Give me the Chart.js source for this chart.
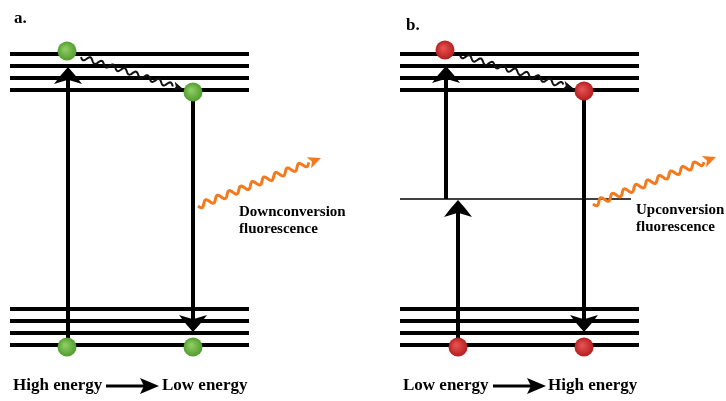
<!DOCTYPE html>
<html>
<head>
<meta charset="utf-8">
<script src="https://cdn.jsdelivr.net/npm/chart.js@4/dist/chart.umd.min.js"></script>
<style>
  body { margin: 0; background: #fff; }
  #wrap { width: 726px; height: 401px; }
</style>
</head>
<body>
<div id="wrap"><canvas id="diagram"></canvas></div>
<script>
// energy levels (y in picture units, 0 at top)
const upperLevels = [54, 66, 78, 90];
const lowerLevels = [309, 321, 333, 345];
const virtualLevel = 199;
const panelLeft = [10, 400];
const panelRight = [249, 639];
const virtualRight = 631;

// electrons
const greenDots = [{x: 67, y: 51}, {x: 193, y: 92}, {x: 67, y: 347}, {x: 193, y: 347}];
const redDots = [{x: 445, y: 50}, {x: 584, y: 91}, {x: 458, y: 347}, {x: 584, y: 347}];

// transitions: [x, yStart, yTip]
const arrows = [[68, 345, 67], [193, 92, 332], [446, 199, 66], [458, 345, 200], [584, 91, 332]];

// relaxation (black) and emission (orange): [x1, y1, x2, y2]
const relax = [[81, 57, 183, 89], [460, 55, 573, 88]];
const emission = [[198, 206, 321, 158], [593, 204, 716, 157]];

// labels
const panelTitles = [{t: 'a.', x: 14, y: 23}, {t: 'b.', x: 406, y: 30}];
const emissionText = [
  {t: 'Downconversion', x: 239, y: 216}, {t: 'fluorescence', x: 239, y: 233},
  {t: 'Upconversion', x: 636, y: 214}, {t: 'fluorescence', x: 636, y: 231}
];
const energyText = [
  {from: 'High energy', to: 'Low energy', x: 13, ax1: 106, ax2: 159, x2: 162, y: 390},
  {from: 'Low energy', to: 'High energy', x: 403, ax1: 493, ax2: 546, x2: 548, y: 390}
];

const datasets = [];
function seg(x1, y1, x2, y2, w) {
  datasets.push({
    type: 'scatter', showLine: true, data: [{x: x1, y: y1}, {x: x2, y: y2}],
    borderColor: '#000', borderWidth: w, pointRadius: 0, borderCapStyle: 'butt', order: 2
  });
}
panelLeft.forEach((l, i) => {
  upperLevels.concat(lowerLevels).forEach(y => seg(l, y, panelRight[i], y, 4));
});
seg(panelLeft[1], virtualLevel, virtualRight, virtualLevel, 1.5);
arrows.forEach(a => seg(a[0], a[1], a[0], a[2] + (a[2] < a[1] ? 8 : -8), 4));

function dotColor(inner, outer) {
  return c => {
    const ch = c.chart;
    if (!c.raw || !ch.scales.x) return outer;
    const x = ch.scales.x.getPixelForValue(c.raw.x);
    const y = ch.scales.y.getPixelForValue(c.raw.y);
    if (!Number.isFinite(x) || !Number.isFinite(y)) return outer;
    const g = ch.ctx.createRadialGradient(x - 2, y - 2, 1, x, y, 10);
    g.addColorStop(0, inner);
    g.addColorStop(1, outer);
    return g;
  };
}
datasets.push({type: 'scatter', data: greenDots, pointRadius: 9.5, pointBorderWidth: 0,
  pointBackgroundColor: dotColor('#8ccc62', '#4f9a2c'), order: 0});
datasets.push({type: 'scatter', data: redDots, pointRadius: 9.5, pointBorderWidth: 0,
  pointBackgroundColor: dotColor('#e85050', '#b01c1c'), order: 0});

function arrowHead(ctx, x, y, dir, w, len) {
  // dir: -1 points up, 1 points down
  ctx.beginPath();
  ctx.moveTo(x, y);
  ctx.quadraticCurveTo(x - w * 0.28, y - dir * len * 0.5, x - w / 2, y - dir * len);
  ctx.lineTo(x, y - dir * len * 0.75);
  ctx.lineTo(x + w / 2, y - dir * len);
  ctx.quadraticCurveTo(x + w * 0.28, y - dir * len * 0.5, x, y);
  ctx.fill();
}

function wave(ctx, p, amp, period, color, width, hl, hw) {
  const [x1, y1, x2, y2] = p;
  const dx = x2 - x1, dy = y2 - y1, len = Math.hypot(dx, dy);
  const ux = dx / len, uy = dy / len, nx = -uy, ny = ux;
  ctx.strokeStyle = color; ctx.fillStyle = color; ctx.lineWidth = width;
  ctx.beginPath();
  for (let s = 0; s <= len - hl; s += 0.5) {
    const o = amp * Math.sin(2 * Math.PI * s / period);
    ctx.lineTo(x1 + ux * s + nx * o, y1 + uy * s + ny * o);
  }
  ctx.stroke();
  ctx.beginPath();
  ctx.moveTo(x2, y2);
  ctx.lineTo(x2 - ux * hl + nx * hw / 2, y2 - uy * hl + ny * hw / 2);
  ctx.lineTo(x2 - ux * hl * 0.75, y2 - uy * hl * 0.75);
  ctx.lineTo(x2 - ux * hl - nx * hw / 2, y2 - uy * hl - ny * hw / 2);
  ctx.closePath();
  ctx.fill();
}

const extras = {
  id: 'extras',
  afterDatasetsDraw(chart) {
    const ctx = chart.ctx, sx = chart.scales.x, sy = chart.scales.y;
    const P = q => [sx.getPixelForValue(q[0]), sy.getPixelForValue(q[1]), sx.getPixelForValue(q[2]), sy.getPixelForValue(q[3])];
    ctx.save();
    ctx.fillStyle = '#000';
    arrows.forEach(a => {
      arrowHead(ctx, sx.getPixelForValue(a[0]), sy.getPixelForValue(a[2]), a[2] < a[1] ? -1 : 1, 28, 17);
    });
    relax.forEach(r => wave(ctx, P(r), 2.5, 12, '#111', 2, 10, 9));
    emission.forEach(e => wave(ctx, P(e), 3, 12.5, '#f47a1e', 3, 13, 12));

    ctx.fillStyle = '#000';
    ctx.textBaseline = 'alphabetic';
    ctx.font = 'bold 17px "Liberation Serif", "Times New Roman", serif';
    panelTitles.forEach(t => ctx.fillText(t.t, sx.getPixelForValue(t.x), sy.getPixelForValue(t.y)));
    ctx.font = 'bold 15px "Liberation Serif", "Times New Roman", serif';
    emissionText.forEach(t => ctx.fillText(t.t, sx.getPixelForValue(t.x), sy.getPixelForValue(t.y)));
    ctx.font = 'bold 17px "Liberation Serif", "Times New Roman", serif';
    energyText.forEach(e => {
      const y = sy.getPixelForValue(e.y);
      ctx.fillText(e.from, sx.getPixelForValue(e.x), y);
      ctx.fillText(e.to, sx.getPixelForValue(e.x2), y);
      const ay = y - 4, a1 = sx.getPixelForValue(e.ax1), a2 = sx.getPixelForValue(e.ax2);
      ctx.lineWidth = 3; ctx.strokeStyle = '#000';
      ctx.beginPath(); ctx.moveTo(a1, ay); ctx.lineTo(a2 - 12, ay); ctx.stroke();
      ctx.beginPath(); ctx.moveTo(a2, ay); ctx.lineTo(a2 - 19, ay - 8); ctx.lineTo(a2 - 15, ay); ctx.lineTo(a2 - 19, ay + 8); ctx.closePath(); ctx.fill();
    });
    ctx.restore();
  }
};

new Chart(document.getElementById('diagram'), {
  type: 'scatter',
  data: {datasets: datasets},
  options: {
    responsive: true,
    maintainAspectRatio: false,
    animation: false,
    layout: {padding: 0, autoPadding: false},
    plugins: {legend: {display: false}, tooltip: {enabled: false}},
    scales: {
      x: {type: 'linear', min: 0, max: 726, display: false},
      y: {type: 'linear', min: 0, max: 401, reverse: true, display: false}
    }
  },
  plugins: [extras]
});
</script>
</body>
</html>
